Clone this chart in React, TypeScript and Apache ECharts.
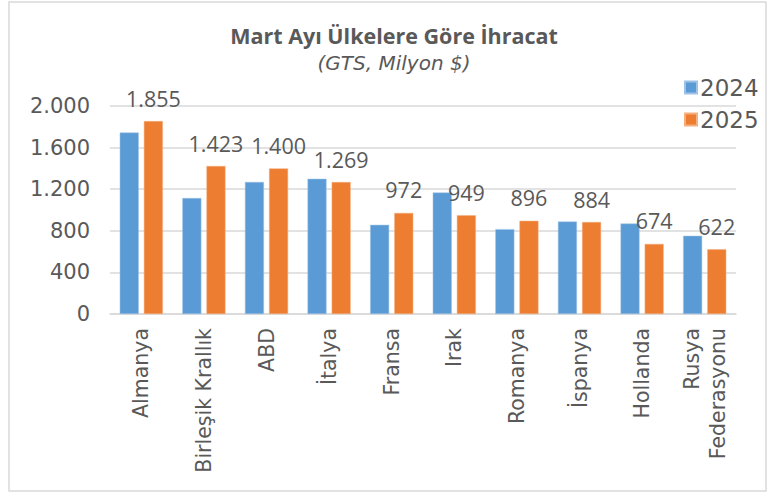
import React, { useEffect, useRef } from "react";
import * as echarts from "echarts";

const categories = [
  "Almanya",
  "Birleşik Krallık",
  "ABD",
  "İtalya",
  "Fransa",
  "Irak",
  "Romanya",
  "İspanya",
  "Hollanda",
  "Rusya\nFederasyonu",
];
const values2024 = [1745, 1115, 1270, 1300, 857, 1168, 816, 889, 870, 752];
const values2025 = [1855, 1423, 1400, 1269, 972, 949, 896, 884, 674, 622];
const yTicks = { min: 0, max: 2000, interval: 400 };

const TEXT = "#595959";
const FONT = "'Open Sans', 'Noto Sans', sans-serif";
const WIDE = "'DejaVu Sans', 'Open Sans', sans-serif";

const fmt = (v: number) => String(v).replace(/\B(?=(\d{3})+(?!\d))/g, ".");

export default function App() {
  const ref = useRef<HTMLDivElement>(null);
  useEffect(() => {
    if (!ref.current) return;
    const chart = echarts.init(ref.current, null, { renderer: "svg" });
    chart.setOption({
      animation: false,
      backgroundColor: "#ffffff",
      textStyle: { fontFamily: FONT, color: TEXT },
      graphic: [
        {
          type: "rect",
          shape: { x: 9, y: 2, width: 757, height: 489 },
          style: { fill: "none", stroke: "#d9d9d9", lineWidth: 1.5 },
          silent: true,
        },
      ],
      title: {
        text: "Mart Ayı Ülkelere Göre İhracat",
        subtext: "(GTS, Milyon $)",
        left: 389,
        textAlign: "center",
        top: 19,
        itemGap: 7,
        textStyle: { fontFamily: FONT, fontSize: 21.5, fontWeight: "bold", color: TEXT },
        subtextStyle: { fontFamily: WIDE, fontSize: 20, fontStyle: "italic", color: TEXT },
      },
      legend: {
        orient: "vertical",
        left: 679,
        top: 71,
        itemWidth: 12,
        itemHeight: 12,
        itemGap: 9,
        icon: "rect",
        textStyle: { fontFamily: WIDE, fontSize: 23, color: TEXT, padding: [0, 0, 0, -2] },
        data: ["2024", "2025"],
      },
      grid: { left: 110, right: 35, top: 106, bottom: 179, containLabel: false },
      xAxis: {
        type: "category",
        data: categories,
        axisLine: { lineStyle: { color: "#d9d9d9", width: 1.5 } },
        axisTick: { show: false },
        axisLabel: {
          rotate: 90,
          interval: 0,
          margin: 14,
          fontFamily: WIDE,
          fontSize: 20.5,
          color: TEXT,
          lineHeight: 26,
        },
      },
      yAxis: {
        type: "value",
        min: yTicks.min,
        max: yTicks.max,
        interval: yTicks.interval,
        axisLine: { show: false },
        axisTick: { show: false },
        splitLine: { lineStyle: { color: "#d9d9d9", width: 1.5 } },
        axisLabel: {
          fontFamily: WIDE,
          fontSize: 21,
          color: TEXT,
          margin: 20,
          formatter: (v: number) => fmt(v),
        },
      },
      series: [
        {
          name: "2024",
          type: "bar",
          data: values2024,
          barWidth: 19,
          barGap: "27%",
          itemStyle: { color: "#5B9BD5", borderColor: "#9ec3e6", borderWidth: 0.5 },
        },
        {
          name: "2025",
          type: "bar",
          data: values2025,
          barWidth: 19,
          barGap: "27%",
          itemStyle: { color: "#ED7D31", borderColor: "#f5b07f", borderWidth: 0.5 },
          label: {
            show: true,
            position: "top",
            distance: 12,
            fontFamily: FONT,
            fontSize: 21.5,
            color: TEXT,
            formatter: (p: any) => fmt(p.value),
          },
        },
      ],
    });
    return () => chart.dispose();
  }, []);
  return (
    <div
      ref={ref}
      style={{ position: "absolute", left: 0, top: 0, width: 771, height: 493 }}
    />
  );
}
